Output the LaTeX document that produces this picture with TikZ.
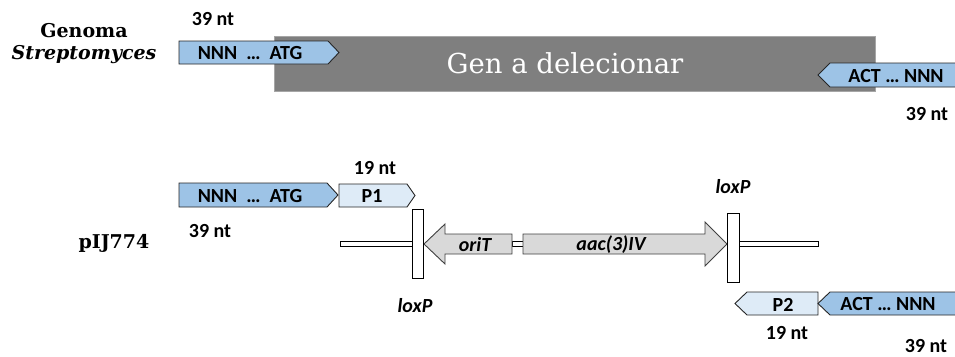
\documentclass[tikz,border=0pt]{standalone}
\usepackage{fontspec}
\setmainfont{DejaVu Serif}
\setsansfont{Carlito}
\tikzset{
  x=1pt, y=-1pt,
  blueshape/.style={fill=blueF, draw=edgeC, line width=0.9pt, line join=miter},
  lightshape/.style={fill=lightF, draw=edgeC, line width=0.9pt},
  grayshape/.style={fill=grayF, draw=grayE, line width=0.9pt},
  boxshape/.style={fill=white, draw=black, line width=0.9pt},
  lbl/.style={font=\sffamily\bfseries\fontsize{20}{24}\selectfont, inner sep=0pt},
  ilbl/.style={font=\sffamily\bfseries\itshape\fontsize{20}{24}\selectfont, inner sep=0pt},
  serifb/.style={font=\bfseries\fontsize{19}{22}\selectfont, inner sep=0pt, align=center}
}
\definecolor{blueF}{HTML}{9DC3E6}
\definecolor{lightF}{HTML}{DEEBF7}
\definecolor{edgeC}{HTML}{262626}
\definecolor{grayF}{HTML}{D9D9D9}
\definecolor{grayE}{HTML}{404040}
\definecolor{delF}{HTML}{7F7F7F}
\definecolor{delE}{HTML}{A6A6A6}
\begin{document}
\begin{tikzpicture}
\useasboundingbox (0,0) rectangle (955,356);
\clip (0,0) rectangle (955,356);
% ---------- genome ----------
\node[serifb] (genoma) at (84,44) {Genoma\\\textit{Streptomyces}};
\draw[fill=delF, draw=delE, line width=0.9pt] (274,36) rectangle (875,91);
\node[font=\fontsize{27.5}{30}\selectfont, text=white, inner sep=0pt] (gen) at (565,63) {Gen a delecionar};
\draw[blueshape] (179,41) -- (328,41) -- (339,52.5) -- (328,64) -- (179,64) -- cycle;
\node[lbl] (nnn1) at (250,53) {NNN\ \ …\ \ ATG};
\node[lbl] (nt1) at (213,19) {39 nt};
\draw[blueshape] (960,63) -- (830,63) -- (818,75) -- (830,87) -- (960,87) -- cycle;
\node[lbl] (act1) at (896,76) {ACT … NNN};
\node[lbl] (nt2) at (927,114) {39 nt};
% ---------- plasmid ----------
\node[serifb] (pij) at (114,243) {pIJ774};
\draw[blueshape] (179,183) -- (327,183) -- (338,195) -- (327,207) -- (179,207) -- cycle;
\node[lbl] (nnn2) at (250,196) {NNN\ \ …\ \ ATG};
\draw[lightshape] (339,184) -- (407,184) -- (415,195.5) -- (407,207) -- (339,207) -- cycle;
\node[lbl] (p1) at (372,196) {P1};
\node[lbl] (nt3) at (375,168) {19 nt};
\node[lbl] (nt4) at (210,231) {39 nt};
% backbone
\draw[boxshape] (340,241.5) rectangle (412,246.5);
\draw[boxshape] (739,241.5) rectangle (818,246.5);
\draw[boxshape] (512,241.5) rectangle (523,246.5);
% oriT arrow (left)
\draw[grayshape] (424,244) -- (445,224) -- (445,234) -- (512,234) -- (512,254) -- (445,254) -- (445,264) -- cycle;
\node[ilbl] (orit) at (475,245) {oriT};
% aac(3)IV arrow (right)
\draw[grayshape] (523,234) -- (705,234) -- (705,222) -- (727,244) -- (705,266) -- (705,254) -- (523,254) -- cycle;
\node[ilbl] (aac) at (611,245) {aac(3)IV};
% loxP boxes
\node[boxshape, minimum width=11pt, minimum height=69pt, inner sep=0pt] (lox1) at (417.5,243.5) {};
\node[boxshape, minimum width=12pt, minimum height=69pt, inner sep=0pt] (lox2) at (733,247.5) {};
\node[ilbl] (loxa) at (733,187) {loxP};
\node[ilbl] (loxb) at (415,306) {loxP};
% P2 and ACT arrows
\draw[lightshape] (818,292) -- (747,292) -- (735,303.5) -- (747,315) -- (818,315) -- cycle;
\node[lbl] (p2) at (783,305) {P2};
\draw[blueshape] (960,292) -- (830,292) -- (818,303.5) -- (830,315) -- (960,315) -- cycle;
\node[lbl] (act2) at (888,304) {ACT … NNN};
\node[lbl] (nt5) at (787,333) {19 nt};
\node[lbl] (nt6) at (926,346) {39 nt};
\end{tikzpicture}
\end{document}
